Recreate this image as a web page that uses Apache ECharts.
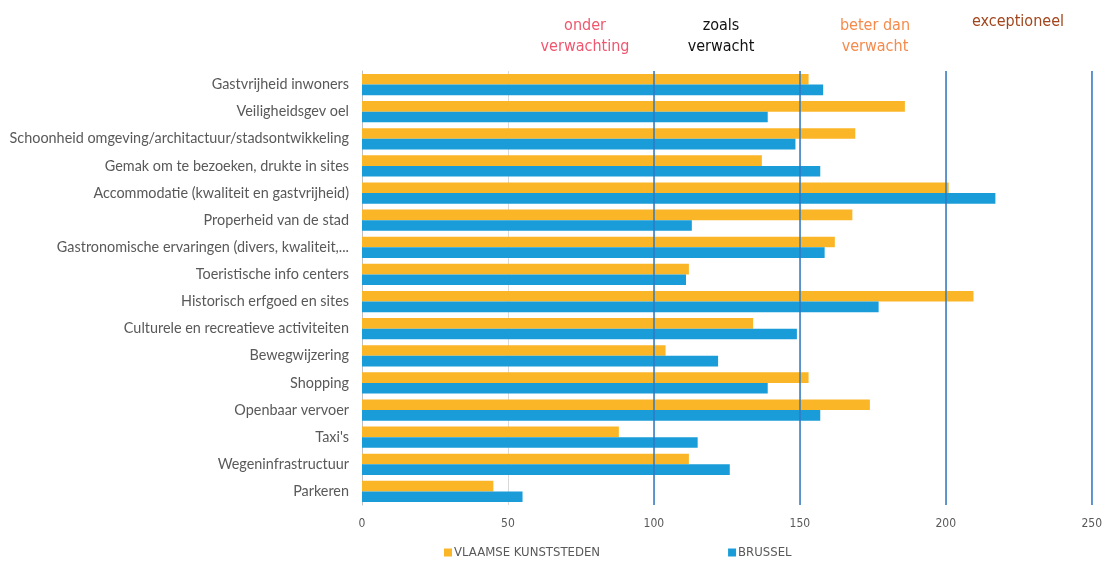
<!DOCTYPE html>
<html>
<head>
<meta charset="utf-8">
<script src="https://cdn.jsdelivr.net/npm/echarts@6/dist/echarts.min.js"></script>
<style>
  html, body { margin: 0; padding: 0; background: #ffffff; overflow: hidden; }
  #chart { width: 1105px; height: 565px; }
</style>
</head>
<body>
<div id="chart"></div>
<script>
const categories = [
  "Gastvrijheid inwoners",
  "Veiligheidsgev oel",
  "Schoonheid omgeving/architactuur/stadsontwikkeling",
  "Gemak om te bezoeken, drukte in sites",
  "Accommodatie (kwaliteit en gastvrijheid)",
  "Properheid van de stad",
  "Gastronomische ervaringen (divers, kwaliteit,...",
  "Toeristische info centers",
  "Historisch erfgoed en sites",
  "Culturele en recreatieve activiteiten",
  "Bewegwijzering",
  "Shopping",
  "Openbaar vervoer",
  "Taxi's",
  "Wegeninfrastructuur",
  "Parkeren"
];
const vlaamseKunststeden = [153, 186, 169, 137, 201, 168, 162, 112, 209.5, 134, 104, 153, 174, 88, 112, 45];
const brussel = [158, 139, 148.5, 157, 217, 113, 158.5, 111, 177, 149, 122, 139, 157, 115, 126, 55];
const seriesNames = ["VLAAMSE KUNSTSTEDEN", "BRUSSEL"];
const thresholds = [100, 150, 200, 250];
const headerTexts = [
  { text: "onder\nverwachting", x: 585, y: 15, color: "#F0566E" },
  { text: "zoals\nverwacht", x: 721, y: 15, color: "#111111" },
  { text: "beter dan\nverwacht", x: 875, y: 15, color: "#F58A4B" },
  { text: "exceptioneel", x: 1018, y: 11, color: "#A3451C" }
];

const narrow = "'Liberation Sans Narrow', 'DejaVu Sans Condensed', sans-serif";
const chart = echarts.init(document.getElementById('chart'), null, { renderer: 'canvas', width: 1105, height: 565 });
chart.setOption({
  animation: false,
  backgroundColor: '#ffffff',
  grid: { left: 362, right: 8, top: 71, bottom: 60, containLabel: false },
  legend: {
    data: seriesNames,
    bottom: 1,
    left: 439,
    itemWidth: 8,
    itemHeight: 8,
    itemGap: 128,
    icon: 'rect',
    textStyle: { color: '#595959', fontSize: 13, fontFamily: narrow, padding: [0, 0, 0, -3] }
  },
  xAxis: {
    type: 'value',
    min: 0,
    max: 250,
    interval: 50,
    axisLine: { show: false },
    axisTick: { show: false },
    axisLabel: { color: '#595959', fontSize: 12, fontFamily: narrow, margin: 13 },
    splitLine: { show: true, lineStyle: { color: '#D9D9D9', width: 1 } }
  },
  yAxis: {
    type: 'category',
    data: categories,
    inverse: true,
    axisLine: { show: true, lineStyle: { color: '#BFBFBF', width: 1 } },
    axisTick: { show: false },
    axisLabel: { color: '#595959', fontSize: 14.4, fontFamily: "Lato, 'Open Sans', sans-serif", margin: 13 }
  },
  series: [
    {
      name: seriesNames[0],
      type: 'bar',
      data: vlaamseKunststeden,
      itemStyle: { color: '#FBB628' },
      barGap: '0%',
      barCategoryGap: '22%'
    },
    {
      name: seriesNames[1],
      type: 'bar',
      data: brussel,
      itemStyle: { color: '#199CD8' },
      barGap: '0%',
      barCategoryGap: '22%',
      markLine: {
        silent: true,
        symbol: 'none',
        label: { show: false },
        lineStyle: { color: '#2F78C4', width: 1.5, type: 'solid' },
        data: thresholds.map(v => ({ xAxis: v }))
      }
    }
  ],
  graphic: headerTexts.map(h => ({
    type: 'text',
    x: h.x,
    y: h.y,
    style: {
      text: h.text,
      fill: h.color,
      font: "16px " + narrow,
      align: 'center',
      textAlign: 'center',
      verticalAlign: 'top',
      lineHeight: 21
    }
  }))
});
</script>
</body>
</html>
